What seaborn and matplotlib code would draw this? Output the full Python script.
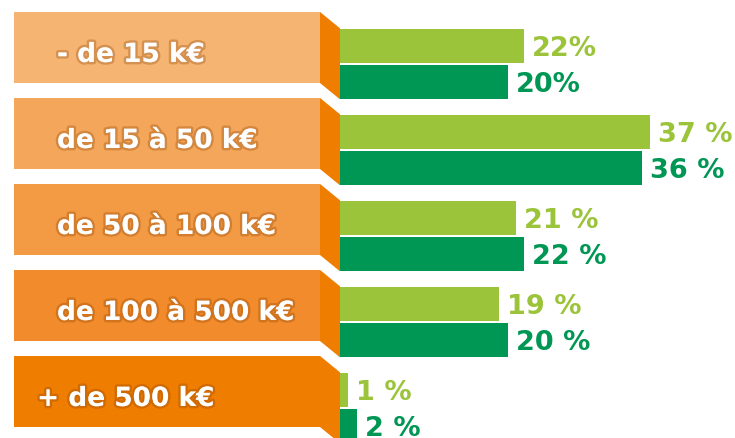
import pandas as pd
import seaborn as sns
import matplotlib.pyplot as plt
import matplotlib.patheffects as pe
from matplotlib.patches import Rectangle, Polygon

tranches = ['- de 15 k€', 'de 15 à 50 k€', 'de 50 à 100 k€', 'de 100 à 500 k€', '+ de 500 k€']
serie_claire = [22, 37, 21, 19, 1]
serie_foncee = [20, 36, 22, 20, 2]
labels_claire = ['22%', '37 %', '21 %', '19 %', '1 %']
labels_foncee = ['20%', '36 %', '22 %', '20 %', '2 %']

vert_clair = '#9BC43B'
vert_fonce = '#009654'
oranges = ['#F5B472', '#F4A65A', '#F39A44', '#F18B2B', '#EF7D00']
orange_pli = '#EF7D00'

df = pd.DataFrame({
    'tranche': tranches * 2,
    'serie': ['clair'] * 5 + ['fonce'] * 5,
    'valeur': serie_claire + serie_foncee,
})

sns.set_style('white')
plt.rcParams['font.family'] = ['DejaVu Sans']

fig = plt.figure(figsize=(7.35, 4.38), dpi=100)
ax = fig.add_axes([0, 0, 1, 1])

sns.barplot(data=df, y='tranche', x='valeur', hue='serie', palette=[vert_clair, vert_fonce],
            orient='h', width=0.837, gap=0.056, saturation=1, legend=False,
            linewidth=0, edgecolor='none', ax=ax)

# 8.38 px per %, bars start at x=340px, one category = 86px
px = 1 / 8.38
ax.set_xlim(-340 * px, (735 - 340) * px)
ax.set_ylim(4.349, -0.744)
ax.axis('off')

# banners
x_left = (14 - 340) * px
x_fold = (320 - 340) * px
drop = 0.19
for i, t in enumerate(tranches):
    top = i - 0.605
    bottom = i + 0.221
    ax.add_patch(Rectangle((x_left, top), x_fold - x_left, bottom - top,
                           facecolor=oranges[i], edgecolor='none', zorder=1))
    ax.add_patch(Polygon([(x_fold, top), (0, top + drop), (0, bottom + drop), (x_fold, bottom)],
                         closed=True, facecolor=orange_pli, edgecolor='none', zorder=1))
    tx = (37 - 340) * px if i == 4 else (57 - 340) * px
    ax.text(tx, i - 0.14, t, color='white', fontsize=19, fontweight='bold',
            ha='left', va='center_baseline', zorder=3,
            path_effects=[pe.withStroke(linewidth=3.5, foreground=(0.55, 0.25, 0.0, 0.3))])

# value labels
for cont, labs, col in zip(ax.containers, [labels_claire, labels_foncee], [vert_clair, vert_fonce]):
    for bar, lab in zip(cont, labs):
        ax.text(bar.get_width() + 8 * px, bar.get_y() + bar.get_height() / 2, lab,
                color=col, fontsize=19.5, fontweight='bold', ha='left', va='center_baseline')

plt.savefig('out.png', dpi=100)
